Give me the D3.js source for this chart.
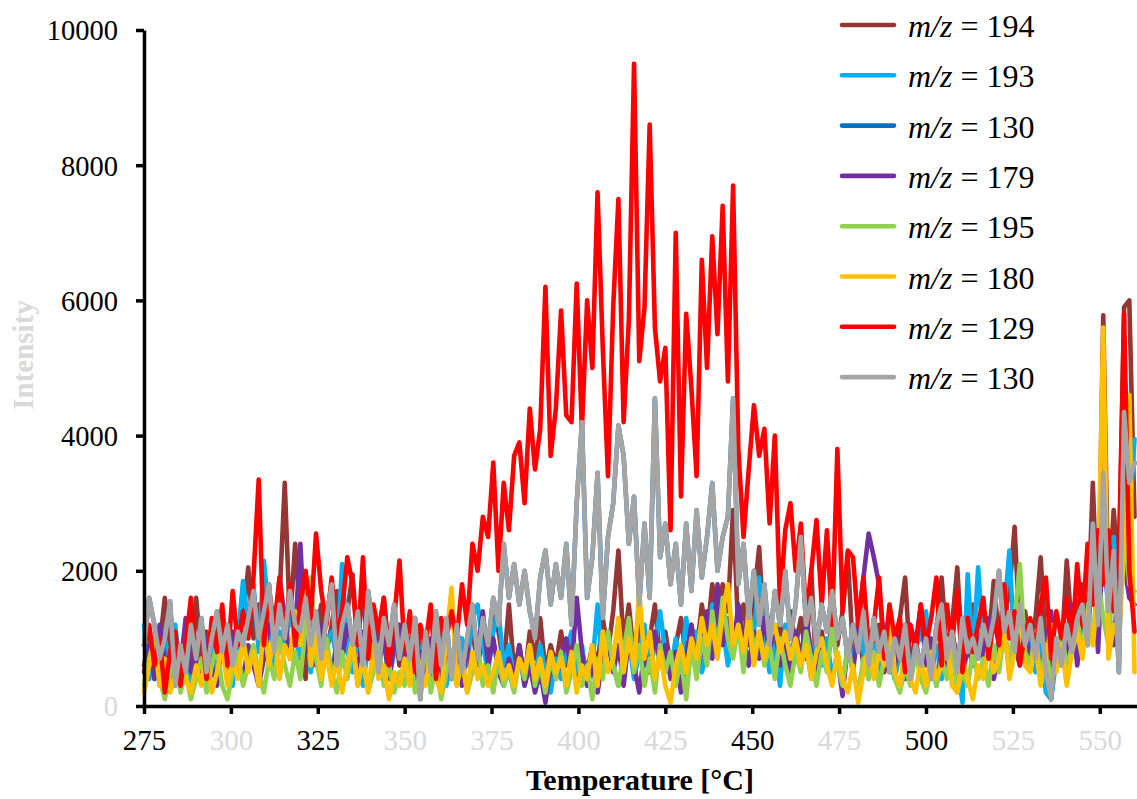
<!DOCTYPE html>
<html><head><meta charset="utf-8">
<script src="https://cdn.jsdelivr.net/npm/d3@7"></script>
<style>
html,body{margin:0;padding:0;background:#fff;}
svg{display:block;font-family:"Liberation Serif","Times New Roman",serif;}
</style></head>
<body><svg id="c" width="1137" height="799"></svg>
<script>
// Temperature grid (°C), one sample every 1.5 °C from 275 to 560
const temps = d3.range(0, 191).map(i => 275 + 1.5 * i);
const xTicks = [275, 300, 325, 350, 375, 400, 425, 450, 475, 500, 525, 550];
const xTickGrey = [300, 350, 375, 400, 425, 475, 525, 550];
const yTicks = [0, 2000, 4000, 6000, 8000, 10000];

const mz194 = [600,1000,400,900,1600,700,1100,500,900,400,
1600,700,1100,500,1200,700,1000,400,900,1300,
2050,1000,1500,800,1300,900,1600,3300,1200,2400,
1300,400,1700,1000,1500,800,1200,1700,900,1400,
1950,900,1750,700,1300,1000,1600,800,1200,600,
1000,500,1200,700,1000,400,900,300,800,500,
900,400,800,1100,600,1000,700,1400,1100,600,
1500,500,900,400,1100,700,1300,500,900,600,
1100,600,1000,400,800,500,900,600,1300,800,
1400,2300,900,1500,700,1200,600,1000,1500,700,
1100,600,900,1300,700,1200,800,1500,1000,1800,
1200,1800,1400,2900,1100,1500,900,1600,2350,1000,
1300,700,1200,800,1400,900,1300,700,2000,400,
1100,600,1300,900,1400,2200,800,1200,600,1100,
700,1200,500,900,600,1300,1900,600,1000,500,
900,600,1100,1900,800,1200,2050,700,1100,1500,
800,1200,900,1850,1000,1300,1700,2650,1000,1400,
900,1300,2200,800,600,1000,800,2150,1100,1400,
1800,1200,3300,1200,5780,1500,2900,1900,5900,6000,
2800];

const mz193 = [1200,400,800,300,1000,600,1200,500,900,300,
800,1100,500,900,400,1200,600,300,1000,1850,
1200,1800,800,2150,1300,600,1100,800,1400,1000,
700,1200,500,1000,400,900,1100,700,2100,800,
500,1100,300,900,1300,600,1000,400,800,1200,
500,900,300,1100,600,900,400,700,300,800,
500,1000,600,1300,1500,900,500,1100,1400,600,
900,400,800,300,700,400,900,500,200,700,
400,800,1100,500,900,300,600,1500,500,900,
600,300,700,1000,400,800,1200,500,900,1400,
800,500,1000,600,1300,700,1100,500,800,1500,
900,1200,600,1000,1300,800,600,1100,1900,1000,
500,900,300,1200,700,1100,600,900,400,1000,
600,1000,400,800,300,900,600,1300,800,400,
900,500,1200,700,400,800,1100,500,900,1000,
1400,600,900,400,800,1100,600,50,1950,700,
2050,900,1300,600,1000,1400,2300,800,1100,700,
1000,500,900,200,100,700,1100,600,1300,900,
1600,1000,2100,2200,3000,1200,2500,1500,3500,2700,
3950];

// m/z = 130 (shown twice in the original legend, identical trace)
const mz130 = [900,1600,1200,700,1000,1550,300,900,500,1200,
700,1300,500,1000,1400,800,1200,600,1100,900,
1300,1700,1000,1400,1800,800,1500,1000,1700,1200,
1100,1600,900,1400,700,1300,1800,600,1200,1500,
900,1400,600,1700,1100,500,1300,900,1500,700,
1200,700,1300,100,1100,500,1400,600,1300,400,
1200,500,1000,1500,700,1300,900,1600,1200,2400,
1600,2100,1500,2000,1400,1000,1900,2300,1500,2100,
1600,2400,1200,3000,4200,1600,2200,3450,1300,2500,
3000,4150,3700,2400,3100,1500,2700,1600,4550,2200,
2700,1800,2400,1500,2700,1700,2900,1900,2500,3300,
2000,2500,2800,4550,1800,2400,1300,2000,1200,1800,
900,1700,1200,2000,1000,1500,2500,1200,1600,900,
1500,1100,1700,1000,1300,700,1200,800,1400,600,
1300,800,1100,500,1000,700,1200,400,900,600,
1000,400,1200,1500,700,1100,500,1300,800,1000,
700,1200,900,1300,2000,1100,1400,800,1500,900,
1200,700,1300,500,100,1000,600,1200,800,1300,
1500,900,2700,1200,3450,1400,2300,500,4350,3300,
3600];

const mz179 = [500,900,400,1200,700,300,1000,600,1300,500,
800,400,1000,600,300,900,500,1100,700,400,
900,600,300,700,1200,1000,1900,1300,700,1100,
2400,800,1400,600,1200,900,400,1000,700,1200,
900,500,1100,700,1400,600,1000,400,900,1200,
600,1000,400,800,500,1000,700,300,800,400,
700,300,900,500,800,1400,600,1000,500,300,
700,400,900,300,600,200,500,50,600,400,
700,1000,500,1600,800,300,600,200,700,1000,
500,900,300,1000,600,200,800,500,1100,600,
900,400,800,200,700,1200,500,800,1400,700,
1800,900,1300,800,1500,1000,600,1100,700,1300,
800,1200,600,1000,500,1100,700,1300,800,500,
900,600,1100,700,150,900,500,1200,1900,2550,
2200,1800,900,1300,600,1000,400,1200,900,1500,
600,1000,300,800,500,1100,700,400,900,600,
1000,700,1300,400,800,1200,500,900,600,1100,
700,1000,500,900,1400,600,1100,800,1500,600,
1200,1000,2300,800,2500,1400,900,1900,2100,1600,
1500];

const mz195 = [300,700,1000,400,100,500,800,200,500,100,
400,700,200,600,900,300,100,500,800,300,
600,900,500,200,700,400,1000,600,300,800,
400,1200,1900,700,300,1000,500,200,800,400,
900,300,700,200,500,900,300,600,200,500,
300,800,200,500,900,200,600,100,500,800,
300,700,200,500,900,300,600,200,700,300,
500,200,700,400,900,300,600,200,700,400,
800,200,500,900,300,600,100,700,400,1100,
600,300,800,1300,500,900,300,700,200,900,
500,800,300,700,100,900,400,1000,600,1400,
800,1600,1000,700,1200,500,1500,800,1100,600,
900,400,1000,600,300,800,500,1100,700,300,
800,500,1200,600,300,900,500,200,700,400,
800,300,700,1000,400,200,600,300,800,400,
200,600,300,700,400,900,200,500,300,800,
400,700,300,900,500,1100,600,1300,2100,800,
600,1100,400,900,300,700,1200,500,900,1300,
800,1500,1000,1900,1300,900,2000,1200,2800,1800,
1700];

const mz180 = [200,600,1000,300,700,200,500,900,400,200,
600,300,800,200,500,900,300,700,400,1000,
500,800,300,1200,600,1100,400,900,700,1400,
900,1950,600,1100,400,800,300,700,200,600,
1000,300,700,200,900,400,600,100,500,300,
700,300,900,500,300,800,400,200,1000,1750,
300,700,200,800,400,600,300,500,800,400,
600,300,700,500,900,400,700,300,800,500,
700,300,800,200,600,400,900,300,1100,500,
700,1300,500,1000,600,1700,700,1100,400,800,
300,50,600,900,500,1000,700,1300,900,1200,
700,1400,1800,900,1200,800,1300,600,1100,700,
1000,1200,800,1100,700,1000,600,900,400,800,
1000,600,300,800,400,200,600,50,500,900,
400,800,600,1500,500,300,900,400,200,700,
300,800,400,600,1000,300,200,700,400,100,
600,400,900,500,700,1200,400,800,1400,600,
500,900,300,700,1200,500,900,300,800,1100,
700,1400,900,1700,5600,700,1200,1000,2300,4600,
500];

const mz129 = [900,1200,600,1000,200,800,1100,300,900,1600,
700,1200,400,1300,800,1500,600,1700,900,1400,
1000,1900,3350,900,1700,1200,1900,1000,1800,900,
1500,2000,1300,2550,1700,1200,1900,1000,1400,2200,
1800,900,2200,700,1500,1100,1600,600,1300,2150,
800,1400,500,1200,900,1500,400,1300,1000,1400,
1000,1800,1200,2400,2000,2800,2500,3600,2000,3300,
2600,3700,3900,3000,4400,3500,4100,6200,3700,4400,
5850,4300,4200,6250,4100,6000,5000,7600,5300,3400,
5900,7500,4200,5700,9500,5100,5900,8600,5600,4800,
5300,2600,7000,3100,5800,4700,3400,6600,5000,6950,
5500,7400,4800,7700,3800,2500,3500,4450,3700,4100,
2700,4000,1500,2600,3000,2000,2700,1300,2000,2750,
1500,2600,1200,3800,1400,2300,2200,1200,1900,900,
1200,1900,700,1500,1000,1300,500,1200,800,1500,
900,1300,1900,600,1500,900,1700,500,1300,800,
1200,1600,700,1300,900,1800,1000,1400,600,1100,
1300,800,1500,1900,700,1400,1000,1600,900,2100,
1200,2400,1500,2600,1800,2600,1400,2200,5800,2000,
1100];

const seriesNames = ["194", "193", "130", "179", "195", "180", "129", "130"];
const seriesColors = ["#943634", "#00B0F0", "#0070C0", "#7030A0", "#92D050", "#FFC000", "#FF0000", "#A5A5A5"];
const seriesData = [mz194, mz193, mz130, mz179, mz195, mz180, mz129, mz130];

const svg = d3.select("#c");
const x = d3.scaleLinear().domain([275, 561]).range([144, 1138]);
const y = d3.scaleLinear().domain([0, 10000]).range([706, 30]);

// lines
const line = d3.line().x((d, i) => x(temps[i])).y(d => y(d));
const gLines = svg.append("g");
seriesData.forEach((s, k) => {
  gLines.append("path").datum(s)
    .attr("d", line)
    .attr("fill", "none")
    .attr("stroke", seriesColors[k])
    .attr("stroke-width", 4.6)
    .attr("stroke-linejoin", "round")
    .attr("stroke-linecap", "round");
});

// y axis
const yAxis = svg.append("g").attr("transform", "translate(144,0)")
  .call(d3.axisLeft(y).tickValues(yTicks).tickSize(8).tickSizeOuter(0).tickPadding(18).tickFormat(d3.format("d")));
yAxis.select(".domain").attr("stroke", "#000").attr("stroke-width", 3.5);
yAxis.selectAll(".tick line").attr("stroke", "#000").attr("stroke-width", 3.5);
yAxis.selectAll(".tick text").attr("font-size", 28.5).attr("font-family", "Liberation Serif")
  .attr("fill", d => d === 0 ? "#d9d9d9" : "#000").attr("dy", "0.35em");

// x axis
const xAxis = svg.append("g").attr("transform", "translate(0,706)")
  .call(d3.axisBottom(x).tickValues(xTicks).tickSize(8).tickSizeOuter(0).tickPadding(15).tickFormat(d3.format("d")));
xAxis.select(".domain").attr("stroke", "#000").attr("stroke-width", 3.5);
xAxis.selectAll(".tick line").attr("stroke", "#000").attr("stroke-width", 3.5);
xAxis.selectAll(".tick text").attr("font-size", 29).attr("font-family", "Liberation Serif")
  .attr("fill", d => xTickGrey.includes(d) ? "#d9d9d9" : "#000");

// titles
svg.append("text").attr("x", 640).attr("y", 790).attr("text-anchor", "middle")
  .attr("font-size", 30).attr("font-weight", "bold").text("Temperature [°C]");
svg.append("text").attr("transform", "translate(33,355) rotate(-90)").attr("text-anchor", "middle")
  .attr("font-size", 29).attr("font-weight", "bold").attr("fill", "#d9d9d9").text("Intensity");

// legend
const leg = svg.append("g");
seriesNames.forEach((n, k) => {
  const yy = 25 + k * 50.3;
  leg.append("line").attr("x1", 842).attr("x2", 894).attr("y1", yy).attr("y2", yy)
    .attr("stroke", seriesColors[k]).attr("stroke-width", 4.6).attr("stroke-linecap", "round");
  const t = leg.append("text").attr("x", 908).attr("y", yy + 12).attr("font-size", 32).attr("fill", "#000");
  t.append("tspan").attr("font-style", "italic").text("m/z");
  t.append("tspan").text(" = " + n);
});
</script></body></html>
